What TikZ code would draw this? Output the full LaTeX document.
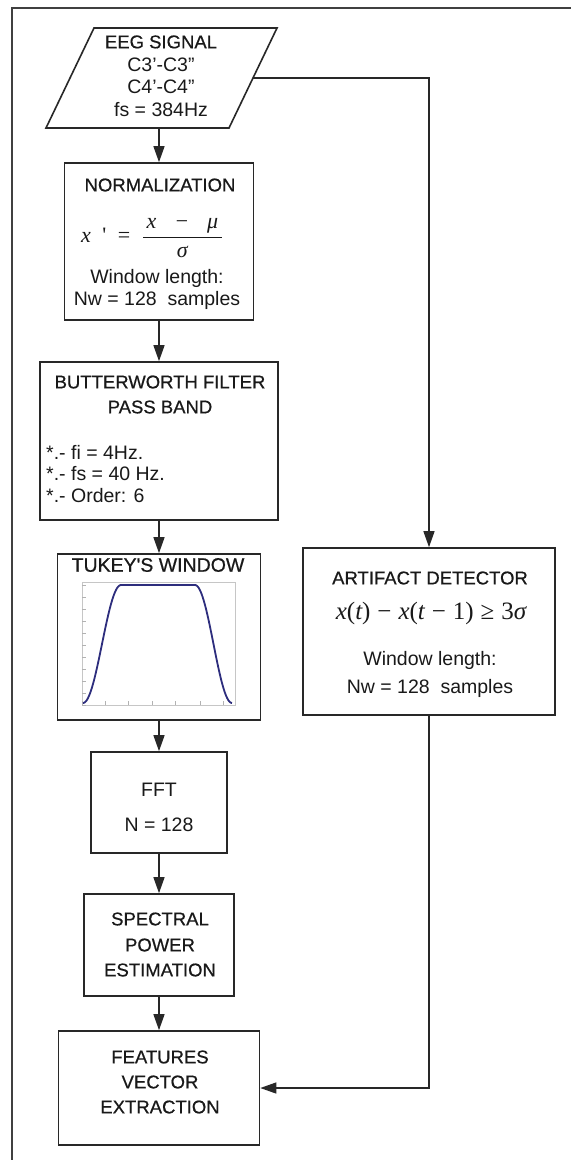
\documentclass[tikz,border=0pt]{standalone}
\usepackage{fontspec}
\setmainfont{Liberation Sans}
\newfontfamily\seriffont{Liberation Serif}
\newfontfamily\titlefont[FakeBold=0.6]{Liberation Sans}
\usetikzlibrary{arrows.meta}
\definecolor{boxline}{RGB}{40,40,40}
\definecolor{tukeyblue}{RGB}{45,45,125}
\begin{document}
\begin{tikzpicture}[x=1pt,y=-1pt,
  box/.style={draw=boxline,line width=1.6pt,inner sep=0pt,fill=white},
  shapeline/.style={draw=boxline,line width=1.6pt,line join=miter},
  arr/.style={draw=boxline,line width=1.3pt,-{Triangle[length=16pt,width=11pt]}},
  title/.style={font=\fontsize{18.5}{22}\titlefont,text=black!90,inner sep=0pt},
  body/.style={font=\fontsize{19.5}{23}\selectfont,text=black!90,inner sep=0pt},
  frame/.style={draw=black!75,line width=1.5pt}]
\path[use as bounding box] (0,0) rectangle (571,1160);
% outer frame (left and top edges visible)
\draw[frame] (12,1160) -- (12,8) -- (571,8);

% EEG input parallelogram
\draw[shapeline] (94,28) -- (277,28) -- (229,128) -- (46,128) -- cycle;
\coordinate (eegE) at (253,78);
\coordinate (eegS) at (159,128);
\node[align=center,inner sep=0pt,font=\fontsize{19.5}{22.7}\selectfont,text=black!90] (eeg) at (161,76)
  {{\fontsize{18.5}{22.7}\titlefont EEG SIGNAL}\\C3'-C3"\\C4'-C4"\\fs = 384Hz};

% boxes
\node[box,minimum width=189pt,minimum height=157pt] (norm) at (159,241.5) {};
\node[box,minimum width=238pt,minimum height=158pt] (butter) at (159,441) {};
\node[box,minimum width=203pt,minimum height=166pt] (tukey) at (159,637) {};
\node[box,minimum width=136pt,minimum height=101pt] (fft) at (159,802.5) {};
\node[box,minimum width=150pt,minimum height=102pt] (spec) at (159,945) {};
\node[box,minimum width=201pt,minimum height=114pt] (feat) at (159,1088) {};
\node[box,minimum width=252pt,minimum height=167pt] (art) at (429,631.5) {};

% normalization
\node[title] (n1) at (160,185) {NORMALIZATION};
\node[font=\fontsize{22}{26}\selectfont\seriffont,text=black!90,inner sep=0pt] (nf) at (152,238)
  {$\mbox{\itshape x}\;\;\mbox{'}\;\;\mbox{=}\;\;\displaystyle\frac{\,\mbox{\itshape x\hspace{18pt}−\hspace{18pt}μ}\,}{\mbox{\itshape σ}}$};
\node[body] (n2) at (157,278) {Window length:};
\node[body] (n3) at (157,300) {Nw = 128\ \ samples};
% butterworth
\node[title] (b1) at (160,382) {BUTTERWORTH FILTER};
\node[title] (b2) at (160,407) {PASS BAND};
\node[body,anchor=west] (b3) at (46,452) {*.- fi = 4Hz.};
\node[body,anchor=west] (b4) at (46,474) {*.- fs = 40 Hz.};
\node[body,anchor=west] (b5) at (46,496) {*.- Order: 6};
% tukey
\node[title,font=\fontsize{19.5}{22}\titlefont] (k1) at (158,565) {TUKEY'S WINDOW};
\draw[gray!45,line width=0.6pt] (82,582) rectangle (235,705);
\foreach \xx in {82,105,128,152,175,200,223}{\draw[gray!60,line width=0.5pt] (\xx,705) -- (\xx,701);}
\foreach \yy in {585,597,609,621,633,645,657,669,681,693,705}{\draw[gray!60,line width=0.5pt] (82,\yy) -- (86,\yy);}
\draw[tukeyblue,line width=1.8pt,line join=round]
  plot[domain=0:1,samples=40,smooth] ({83+38*\x},{703-118*(0.5-0.5*cos(180*\x))})
  -- (195,585)
  plot[domain=0:1,samples=40,smooth] ({195+37*\x},{585+118*(0.5-0.5*cos(180*\x))});
% fft
\node[body] (f1) at (159,790) {FFT};
\node[body] (f2) at (159,825) {N = 128};
% spectral
\node[title] (s1) at (160,919) {SPECTRAL};
\node[title] (s2) at (160,945) {POWER};
\node[title] (s3) at (160,970) {ESTIMATION};
% features
\node[title] (e1) at (160,1057) {FEATURES};
\node[title] (e2) at (160,1082) {VECTOR};
\node[title] (e3) at (160,1107) {EXTRACTION};
% artifact
\node[title] (a1) at (430,578) {ARTIFACT DETECTOR};
\node[font=\fontsize{25}{29}\selectfont\seriffont,text=black!90,inner sep=0pt] (af) at (431,613)
  {\itshape x\upshape(\itshape t\upshape)\;−\;\itshape x\upshape(\itshape t\upshape\;−\;1)\;≥\;3\itshape σ};
\node[body] (a2) at (430,660) {Window length:};
\node[body] (a3) at (430,688) {Nw = 128\ \ samples};

% connectors
\draw[arr] (eegS) -- (norm.north);
\draw[arr] (norm.south) -- (butter.north);
\draw[arr] (butter.south) -- (tukey.north);
\draw[arr] (tukey.south) -- (fft.north);
\draw[arr] (fft.south) -- (spec.north);
\draw[arr] (spec.south) -- (feat.north);
\draw[arr] (eegE) -| (art.north);
\draw[arr] (art.south) |- (feat.east);
\end{tikzpicture}
\end{document}
